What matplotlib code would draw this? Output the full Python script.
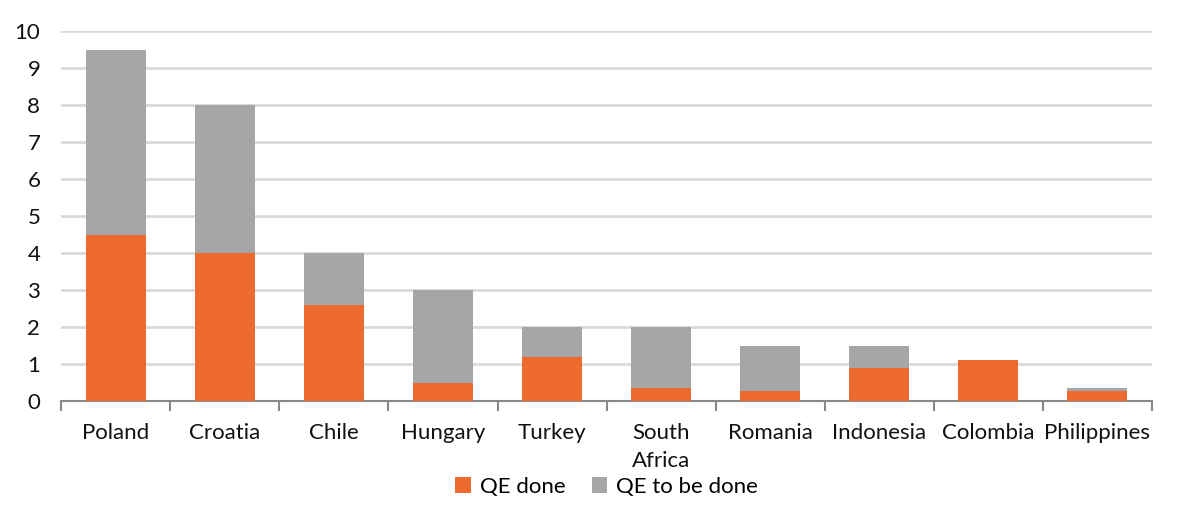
import numpy as np
import matplotlib.pyplot as plt

plt.rcParams['font.family'] = ['Lato', 'DejaVu Sans']

# Datos
countries = ['Poland', 'Croatia', 'Chile', 'Hungary', 'Turkey', 'South\nAfrica',
             'Romania', 'Indonesia', 'Colombia', 'Philippines']
qe_done = [4.5, 4.0, 2.6, 0.5, 1.2, 0.36, 0.28, 0.9, 1.1, 0.28]
qe_to_be_done = [5.0, 4.0, 1.4, 2.5, 0.8, 1.64, 1.22, 0.6, 0.0, 0.08]
y_ticks = [0, 1, 2, 3, 4, 5, 6, 7, 8, 9, 10]

orange = '#EE6B2F'
grey = '#A6A6A6'

fig = plt.figure(figsize=(12, 5.11), dpi=100)
ax = fig.add_axes([0.051, 0.215, 0.909, 0.724])

x = np.arange(len(countries))
ax.bar(x, qe_done, width=0.55, color=orange, label='QE done', zorder=3)
ax.bar(x, qe_to_be_done, width=0.55, bottom=qe_done, color=grey,
       label='QE to be done', zorder=3)

# Ejes
ax.set_xlim(-0.5, len(countries) - 0.5)
ax.set_ylim(0, 10)
ax.set_yticks(y_ticks)
ax.tick_params(axis='y', length=0, labelsize=16, pad=15, colors='#111111')
ax.yaxis.grid(True, color='#D9D9D9', linewidth=2, zorder=0)

ax.set_xticks(np.arange(len(countries) + 1) - 0.5)
ax.set_xticklabels([])
ax.tick_params(axis='x', which='major', length=7, width=1.5, color='#888888')
ax.set_xticks(x, minor=True)
ax.set_xticklabels(countries, minor=True, fontsize=16, va='top', color='#111111',
                   linespacing=1.45)
ax.tick_params(axis='x', which='minor', length=0, pad=16)

for side in ['left', 'right', 'top']:
    ax.spines[side].set_visible(False)
ax.spines['bottom'].set_color('#888888')
ax.spines['bottom'].set_linewidth(1.5)

# Leyenda
ax.legend(loc='upper center', bbox_to_anchor=(0.5, -0.15), ncol=2, frameon=False,
          fontsize=16, handlelength=0.7, handleheight=0.7, handletextpad=0.4,
          columnspacing=1.2)

fig.savefig('out.png', dpi=100)
